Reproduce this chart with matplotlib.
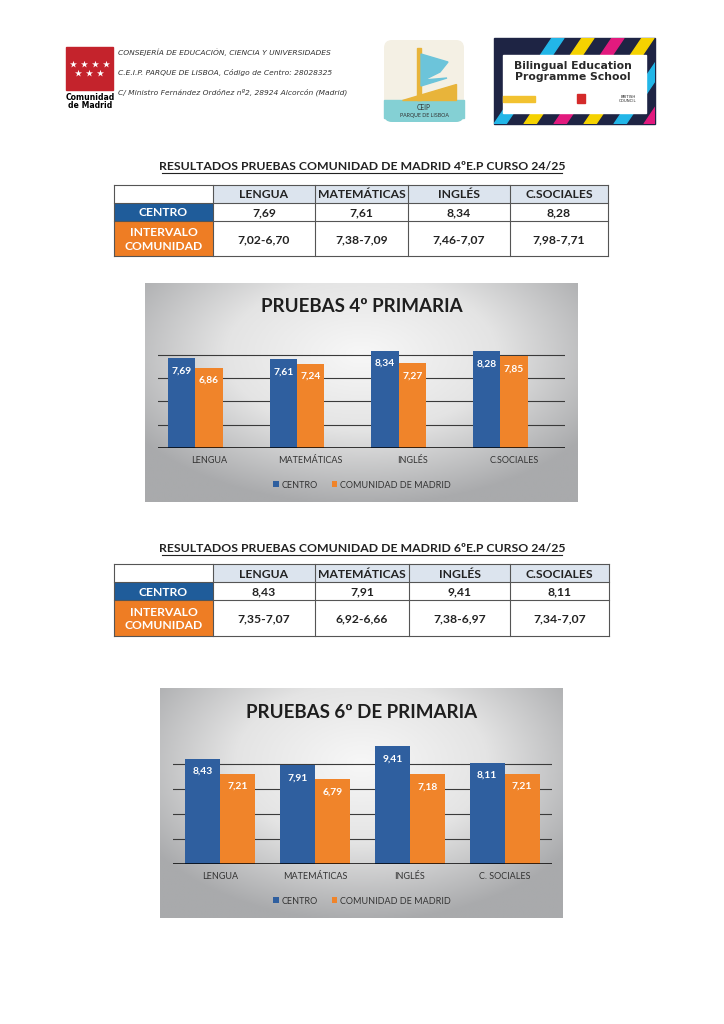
import numpy as np
import matplotlib
matplotlib.use("Agg")
import matplotlib.pyplot as plt
from matplotlib.patches import Rectangle, FancyBboxPatch, Polygon
from matplotlib.colors import LinearSegmentedColormap

plt.rcParams['font.family'] = ['Lato', 'DejaVu Sans']

# ---- data ----
subjects = ["LENGUA", "MATEMÁTICAS", "INGLÉS", "C.SOCIALES"]
subjects_6_chart = ["LENGUA", "MATEMÁTICAS", "INGLÉS", "C. SOCIALES"]

centro_4 = [7.69, 7.61, 8.34, 8.28]
intervalo_4 = ["7,02-6,70", "7,38-7,09", "7,46-7,07", "7,98-7,71"]
comunidad_4 = [6.86, 7.24, 7.27, 7.85]

centro_6 = [8.43, 7.91, 9.41, 8.11]
intervalo_6 = ["7,35-7,07", "6,92-6,66", "7,38-6,97", "7,34-7,07"]
comunidad_6 = [7.21, 6.79, 7.18, 7.21]

series_names = ["CENTRO", "COMUNIDAD DE MADRID"]

BLUE = "#2f5f9f"
ORANGE = "#f0842a"
T_BLUE = "#1f5c9a"
T_ORANGE = "#ee7d24"
W, H = 724, 1024


def fmt(v):
    return f"{v:.2f}".replace(".", ",")


fig = plt.figure(figsize=(W / 100, H / 100), dpi=100)
fig.patch.set_facecolor("white")
page = fig.add_axes([0, 0, 1, 1])
page.axis("off")


def fig_rect(x0, y0, x1, y1):
    # pixel box (top-left origin) -> figure fraction rect
    return [x0 / W, 1 - y1 / H, (x1 - x0) / W, (y1 - y0) / H]


# ---- header ----
page.add_patch(Rectangle((66, 47), 47, 43, color="#c4232c"))
for i in range(4):
    page.scatter(73 + i * 11, 64, marker="*", s=28, color="white", lw=0)
for i in range(3):
    page.scatter(78 + i * 11, 73, marker="*", s=28, color="white", lw=0)
page.text(90, 98, "Comunidad", ha="center", va="center", fontsize=5.6,
          fontweight="bold", family="DejaVu Sans")
page.text(90, 106, "de Madrid", ha="center", va="center", fontsize=5.6,
          fontweight="bold", family="DejaVu Sans")
head_lines = ["CONSEJERÍA DE EDUCACIÓN, CIENCIA Y UNIVERSIDADES",
              "C.E.I.P. PARQUE DE LISBOA, Código de Centro: 28028325",
              "C/ Ministro Fernández Ordóñez nº2, 28924 Alcorcón (Madrid)"]
for i, line in enumerate(head_lines):
    page.text(118, 52 + i * 20, line, ha="left", va="center", fontsize=5.4,
              style="italic", family="DejaVu Sans", color="#333333")

# CEIP logo
page.add_patch(FancyBboxPatch((384, 40), 80, 82, boxstyle="round,pad=0,rounding_size=8",
                              fc="#f4f0e4", ec="none"))
page.add_patch(Rectangle((384, 100), 80, 18, color="#84d0d4"))
page.add_patch(FancyBboxPatch((384, 104), 80, 18, boxstyle="round,pad=0,rounding_size=8",
                              fc="#84d0d4", ec="none"))
page.add_patch(Rectangle((417, 48), 4, 52, color="#e8b43a"))
page.add_patch(Polygon([[402, 100], [456, 100], [456, 84]], color="#e8b43a"))
page.add_patch(Polygon([[421, 54], [448, 62], [440, 72], [424, 80], [447, 78], [421, 86]],
                       color="#6cc4da"))
page.text(424, 107, "CEIP", ha="center", va="center", fontsize=4.8, color="#333333")
page.text(424, 115, "PARQUE DE LISBOA", ha="center", va="center", fontsize=3.8, color="#333333")

# Bilingual logo
page.add_patch(Rectangle((494, 38), 161, 86, color="#1e2444"))
stripe_cols = ["#22b6e8", "#f5d200", "#e21a7e", "#f5d200", "#22b6e8", "#e21a7e"]
for i, c in enumerate(stripe_cols):
    x0 = 494 + i * 30
    poly = Polygon([[x0, 124], [x0 + 12, 124], [x0 + 70, 38], [x0 + 58, 38]], color=c)
    page.add_patch(poly)
    poly.set_clip_path(Rectangle((494, 38), 161, 86, transform=page.transData))
page.add_patch(Rectangle((503, 55), 143, 58, color="white"))
page.text(573, 66, "Bilingual Education", ha="center", va="center", fontsize=7.8,
          fontweight="bold", color="#2a2a2a", family="DejaVu Sans")
page.text(573, 77, "Programme School", ha="center", va="center", fontsize=7.8,
          fontweight="bold", color="#2a2a2a", family="DejaVu Sans")
page.add_patch(Rectangle((503, 96), 32, 6, color="#f2c230"))
page.add_patch(Rectangle((577, 94), 8, 9, color="#d42a2a"))
page.text(628, 99, "BRITISH\nCOUNCIL", ha="center", va="center", fontsize=2.8,
          color="#222222", family="DejaVu Sans", linespacing=0.9)


# ---- tables ----
def draw_table(title, title_y, col_x, row_y, centro, intervalo):
    t = page.text(362, title_y, title, ha="center", va="center", fontsize=8.8,
                  fontweight="bold", color="#222222")
    fig.canvas.draw()
    bb = t.get_window_extent().transformed(page.transData.inverted())
    page.plot([bb.x0, bb.x1], [title_y + 6, title_y + 6], color="#222222", lw=0.8)

    # header row
    for j in range(1, 5):
        page.add_patch(Rectangle((col_x[j], row_y[0]), col_x[j + 1] - col_x[j],
                                 row_y[1] - row_y[0], fc="#dce4ee", ec="none"))
        page.text((col_x[j] + col_x[j + 1]) / 2, (row_y[0] + row_y[1]) / 2 + 1,
                  subjects[j - 1], ha="center", va="center", fontsize=8.7,
                  fontweight="bold", color="#222222")
    page.add_patch(Rectangle((col_x[0], row_y[1]), col_x[1] - col_x[0],
                             row_y[2] - row_y[1], fc=T_BLUE, ec="none"))
    page.add_patch(Rectangle((col_x[0], row_y[2]), col_x[1] - col_x[0],
                             row_y[3] - row_y[2], fc=T_ORANGE, ec="none"))
    page.text((col_x[0] + col_x[1]) / 2, (row_y[1] + row_y[2]) / 2 + 1, "CENTRO",
              ha="center", va="center", fontsize=8.7, fontweight="bold", color="white")
    page.text((col_x[0] + col_x[1]) / 2, (row_y[2] + row_y[3]) / 2 + 1,
              "INTERVALO\nCOMUNIDAD", ha="center", va="center", fontsize=8.7,
              fontweight="bold", color="white", linespacing=1.25)
    for j in range(4):
        cx = (col_x[j + 1] + col_x[j + 2]) / 2
        page.text(cx, (row_y[1] + row_y[2]) / 2 + 1, fmt(centro[j]), ha="center",
                  va="center", fontsize=8.7, fontweight="bold", color="#222222")
        page.text(cx, (row_y[2] + row_y[3]) / 2 + 1, intervalo[j], ha="center",
                  va="center", fontsize=8.7, fontweight="bold", color="#222222")
    # grid lines
    for y in row_y:
        page.plot([col_x[0], col_x[-1]], [y, y], color="#555555", lw=0.8)
    for x in col_x:
        page.plot([x, x], [row_y[0], row_y[-1]], color="#555555", lw=0.8)


draw_table("RESULTADOS PRUEBAS COMUNIDAD DE MADRID 4ºE.P CURSO 24/25", 167,
           [114, 213, 315, 408, 510, 608], [185, 203, 221, 256], centro_4, intervalo_4)
draw_table("RESULTADOS PRUEBAS COMUNIDAD DE MADRID 6ºE.P CURSO 24/25", 549,
           [114, 213, 315, 409, 510, 609], [564, 582, 600, 636], centro_6, intervalo_6)

# ---- chart backgrounds ----
bg_cmap = LinearSegmentedColormap.from_list("bg", ["#f7f7f7", "#e4e4e4", "#a9aaac"])


def draw_background(x0, y0, x1, y1):
    gx = np.linspace(-1, 1, 200)
    gy = np.linspace(-1, 1, 120)
    xx, yy = np.meshgrid(gx, gy)
    r = np.sqrt(xx ** 2 + ((yy + 0.35) * 0.9) ** 2)
    page.imshow(np.clip(r / 1.25, 0, 1), cmap=bg_cmap, extent=[x0, x1, y1, y0],
                aspect="auto", interpolation="bilinear", zorder=0)


draw_background(145, 283, 578, 502)
draw_background(160, 688, 563, 918)

page.set_xlim(0, W)
page.set_ylim(H, 0)


# ---- bar charts ----
def draw_chart(box, ymax, title, title_y, cats, centro, comunidad, width, offsets, legend_y):
    ax = fig.add_axes(fig_rect(*box))
    ax.patch.set_alpha(0)
    x = np.arange(len(cats))
    b1 = ax.bar(x + offsets[0] * width, centro, width, color=BLUE, zorder=3,
                label=series_names[0])
    b2 = ax.bar(x + offsets[1] * width, comunidad, width, color=ORANGE, zorder=3,
                label=series_names[1])
    for bars, vals in ((b1, centro), (b2, comunidad)):
        for rect, v in zip(bars, vals):
            ax.annotate(fmt(v), (rect.get_x() + rect.get_width() / 2, v),
                        xytext=(0, -9), textcoords="offset points", ha="center",
                        va="center", color="white", fontweight="bold", fontsize=7.4,
                        zorder=4)
    ax.set_xlim(-0.5, len(cats) - 0.5)
    ax.set_ylim(0, ymax)
    ax.set_yticks([2, 4, 6, 8])
    ax.set_yticklabels([])
    ax.tick_params(axis="y", length=0)
    ax.set_xticks(x, cats)
    ax.tick_params(axis="x", length=0, pad=6, labelsize=6.5, labelcolor="#333333")
    ax.yaxis.grid(True, color="#3a3a3a", lw=0.8, zorder=1)
    ax.set_axisbelow(True)
    for s in ax.spines.values():
        s.set_visible(False)
    ax.axhline(0, color="black", lw=1.8, zorder=5)
    fig.text(362 / W, 1 - title_y / H, title, ha="center", va="center", fontsize=13.5,
             fontweight="bold", color="#1e1e1e")
    fig.legend(handles=[b1, b2], loc="center", bbox_to_anchor=(362 / W, 1 - legend_y / H),
               ncol=2, frameon=False, fontsize=6.5, handlelength=0.6, handleheight=0.6,
               handletextpad=0.3, columnspacing=1.6, labelcolor="#333333")


draw_chart((158, 343, 565, 448), 9.0, "PRUEBAS 4º PRIMARIA", 307, subjects,
           centro_4, comunidad_4, 0.268, (-1, 0), 485)
draw_chart((173, 744, 552, 864), 9.6, "PRUEBAS 6º DE PRIMARIA", 712, subjects_6_chart,
           centro_6, comunidad_6, 0.37, (-0.5, 0.5), 901)

fig.savefig("out.png", dpi=100, facecolor="white")
